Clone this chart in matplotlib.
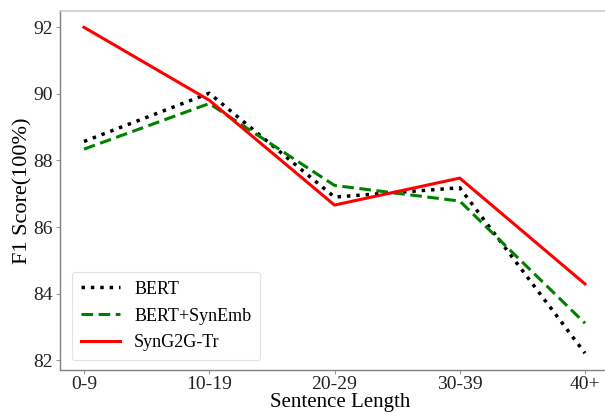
import matplotlib
matplotlib.use("Agg")
import matplotlib.pyplot as plt

categories = ["0-9", "10-19", "20-29", "30-39", "40+"]
bert = [88.57, 90.02, 86.90, 87.18, 82.21]
bert_synemb = [88.34, 89.71, 87.25, 86.78, 83.11]
syng2g = [92.00, 89.81, 86.66, 87.47, 84.29]

plt.rcParams['font.family'] = ['Liberation Serif', 'DejaVu Serif']

fig = plt.figure(figsize=(6.05, 4.12), dpi=100)
ax = fig.add_axes([60/605, 1 - 369.5/412, 560/605, (369.5-11)/412])

x = list(range(len(categories)))
ax.plot(x, bert, color='black', linestyle=(0, (1, 1.7)), linewidth=2.5,
        label='BERT')
ax.plot(x, bert_synemb, color='green', linestyle=(0, (3.8, 1.8)), linewidth=2.2,
        label='BERT+SynEmb')
ax.plot(x, syng2g, color='red', linestyle='-', linewidth=2.2, label='SynG2G-Tr')

ax.set_xlim(-24/125.25, 4 + 35/125.25)
ax.set_xticks(x)
ax.set_xticklabels(categories)
ax.set_yticks([82, 84, 86, 88, 90, 92])
ax.tick_params(axis='both', labelsize=14, colors='#222222', length=3,
               width=0.8, color='#999999', pad=2)
ax.set_xlabel('Sentence Length', fontsize=15, labelpad=0)
ax.set_ylabel('F1 Score(100%)', fontsize=16, labelpad=1)

for s in ['left', 'bottom']:
    ax.spines[s].set_color('#808080')
    ax.spines[s].set_linewidth(1.0)
for s in ['top', 'right']:
    ax.spines[s].set_color('#cccccc')
    ax.spines[s].set_linewidth(1.2)

leg = ax.legend(loc='lower left', fontsize=13, frameon=True, fancybox=True,
                handlelength=2.15, borderpad=0.5, labelspacing=0.55,
                handletextpad=0.8, bbox_to_anchor=(0.005, 0.0))
leg.get_frame().set_edgecolor('#dddddd')
leg.get_frame().set_linewidth(0.8)

fig.savefig('out.png', dpi=100)
